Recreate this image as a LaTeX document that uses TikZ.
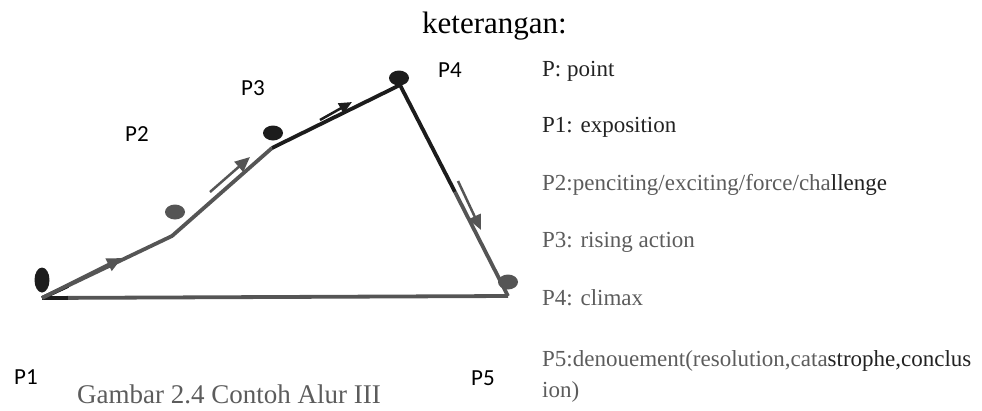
\documentclass[tikz,border=0pt]{standalone}
\usepackage{fontspec}
\setmainfont{Liberation Serif}
\newfontfamily\calfont{Carlito}
\usepackage{xcolor}
\usepackage{tikz}
\usetikzlibrary{arrows.meta,calc,positioning,shapes.geometric}
\definecolor{agray}{HTML}{555555}
\definecolor{adark}{HTML}{1C1C1C}
\definecolor{atext}{HTML}{5C5C5C}
\definecolor{atextd}{HTML}{222222}
\tikzset{
  aline/.style={draw=agray, line width=3.8pt, line join=round},
  alinek/.style={draw=adark, line width=3.8pt, line join=round},
  adot/.style={ellipse, fill=adark, minimum width=20pt, minimum height=15pt, inner sep=0pt},
  adotg/.style={adot, fill=agray},
  apt/.style={font=\calfont\fontsize{23}{23}\selectfont, text=black, inner sep=0pt},
  aleg/.style={anchor=base west, inner sep=0pt, text=atext,
               font=\fontsize{23}{27}\selectfont},
  ahint/.style={-{Triangle[length=15pt,width=13pt]}, draw=agray, fill=agray, line width=2.5pt},
  ahead/.style={-{Triangle[length=15pt,width=13pt]}, draw=agray, fill=agray, line width=3.8pt},
}

\begin{document}
\begin{tikzpicture}[x=1pt, y=-1pt]
  \useasboundingbox (0,0) rectangle (982,410);

  % titik alur
  \coordinate (p1) at (42,298);
  \coordinate (p2) at (172,236);
  \coordinate (p3) at (272,148);
  \coordinate (p4) at (400,85);
  \coordinate (p5) at (508,296);
  \coordinate (m4) at (455,192);

  % garis alur
  \draw[aline] (p1) -- (p5);
  \draw[aline] (p1) -- (p2) -- (p3);
  \draw[alinek] (p3) -- (p4) -- (m4);
  \draw[aline] (m4) -- (p5);
  \draw[alinek] (p1) -- ++(26,-12);
  \draw[alinek] (p1) -- ++(26,0);

  % panah arah
  \coordinate (a1) at (122,258);
  \draw[ahead] (p1) -- (a1);
  \coordinate (a2s) at (210,192);
  \coordinate (a2e) at (250,157);
  \draw[ahint] (a2s) -- (a2e);
  \coordinate (a3s) at (320,120);
  \coordinate (a3e) at (352,102);
  \draw[ahint, draw=adark, fill=adark, -{Triangle[length=13pt,width=11pt]}] (a3s) -- (a3e);
  \coordinate (a4s) at (458,181);
  \coordinate (a4e) at (481,230);
  \draw[ahint] (a4s) -- (a4e);

  % bulatan
  \node[adot, minimum width=15pt, minimum height=25pt] (d1) at (42,280) {};
  \node[adotg] (d2) at (175,212) {};
  \node[adot]  (d3) at (273,133) {};
  \node[adot]  (d4) at (399,78) {};
  \node[adotg] (d5) at (508,282) {};

  % label P
  \node[apt] (l1) at (26,377) {P1};
  \node[apt] (l2) at (137,134) {P2};
  \node[apt] (l3) at (253,88) {P3};
  \node[apt] (l4) at (450,70) {P4};
  \node[apt] (l5) at (483,378) {P5};

  % keterangan
  \node[anchor=base east, inner sep=0pt, font=\fontsize{31}{31}\selectfont] (ket) at (567,33) {keterangan:};
  \node[aleg, text=atextd] (k0) at (542,76) {P: point};
  \node[aleg, text=atextd] (k1) at (542,132) {P1: exposition};
  \node[aleg] (k2) at (542,190) {P2:penciting/exciting/force/cha\textcolor{atextd}{llenge}};
  \node[aleg] (k3) at (542,247) {P3: rising action};
  \node[aleg] (k4) at (542,305) {P4: climax};
  \node[aleg] (k5) at (542,366) {P5:denouement(resolution,cata\textcolor{atextd}{strophe,conclus}};
  \node[aleg] (k6) at (542,397) {ion)};

  % judul gambar
  \node[anchor=base west, inner sep=0pt, text=atext, font=\fontsize{27}{27}\selectfont] (cap) at (77,403) {Gambar 2.4 Contoh Alur III};

\end{tikzpicture}
\end{document}
